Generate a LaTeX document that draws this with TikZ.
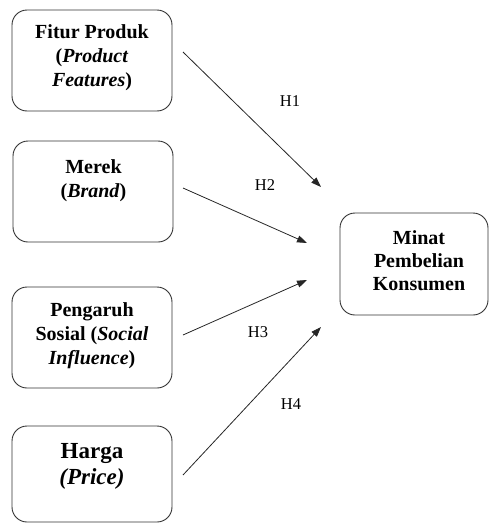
\documentclass[tikz,border=0pt]{standalone}
\usepackage{fontspec}
\setmainfont{Liberation Serif}
\usetikzlibrary{arrows.meta}
\tikzset{
  box/.style={draw=black!80, line width=0.9pt, rounded corners=15pt, minimum width=160pt, minimum height=101pt, inner sep=0pt},
  txt/.style={align=center, font=\fontsize{20}{24}\selectfont\bfseries, inner sep=0pt},
  bigtxt/.style={align=center, font=\fontsize{23}{26}\selectfont\bfseries, inner sep=0pt},
  hyp/.style={font=\fontsize{16.5}{19}\selectfont, inner sep=0pt},
  conn/.style={draw=black!85, line width=0.8pt, -{Triangle[length=10pt,width=7pt]}}
}
\begin{document}
\begin{tikzpicture}[x=1pt,y=-1pt]
\useasboundingbox (0,0) rectangle (490,525);
% boxes
\node[box] (b1) at (92,60.5) {};
\node[box] (b2) at (93,191.5) {};
\node[box] (b3) at (92,337.5) {};
\node[box, minimum height=96pt] (b4) at (92,474) {};
\node[box, minimum width=148pt, minimum height=102pt] (b5) at (414,264) {};
% texts
\node[txt] (t1) at (92,57.5) {Fitur Produk\\(\textit{Product}\\\textit{Features})};
\node[txt] (t2) at (93.5,181) {Merek\\(\textit{Brand})};
\node[txt] (t3) at (92,335.5) {Pengaruh\\Sosial (\textit{Social}\\\textit{Influence})};
\node[bigtxt] (t4) at (92,466) {Harga\\\textit{(Price)}};
\node[txt, font=\fontsize{20}{23}\selectfont\bfseries] (t5) at (419,261) {Minat\\Pembelian\\Konsumen};
% connector ends
\coordinate (s1) at (183,52);
\coordinate (e1) at (321,187);
\coordinate (s2) at (183,188);
\coordinate (e2) at (307,243);
\coordinate (s3) at (183,335);
\coordinate (e3) at (307,280);
\coordinate (s4) at (183,475);
\coordinate (e4) at (321,327);
\draw[conn] (s1) -- (e1);
\draw[conn] (s2) -- (e2);
\draw[conn] (s3) -- (e3);
\draw[conn] (s4) -- (e4);
% hypothesis labels
\node[hyp] (h1) at (290,101) {H1};
\node[hyp] (h2) at (265,185) {H2};
\node[hyp] (h3) at (258,332) {H3};
\node[hyp] (h4) at (291,404) {H4};
\end{tikzpicture}
\end{document}
